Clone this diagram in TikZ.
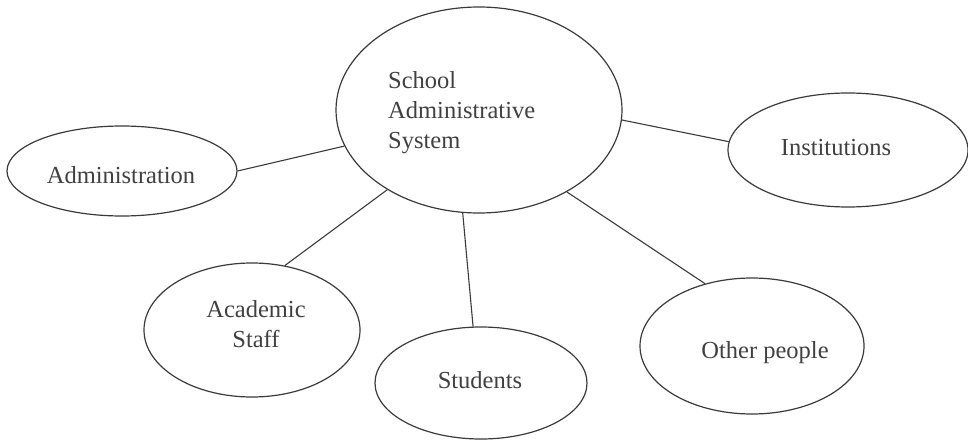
\documentclass[tikz,border=0pt]{standalone}
\usepackage{fontspec}
\setmainfont{Liberation Serif}
\usetikzlibrary{shapes.geometric}
\definecolor{ink}{HTML}{3A3A3A}
\definecolor{txt}{HTML}{404040}
\begin{document}
\begin{tikzpicture}[x=1pt,y=-1pt,
  oval/.style={draw=ink,line width=1.2pt,ellipse,inner sep=0pt},
  caption/.style={text=txt,inner sep=0pt,font=\fontsize{24.5}{29.5}\selectfont},
  link/.style={draw=ink,line width=1.1pt}]
\useasboundingbox (0,0) rectangle (968,441);

% ellipses
\node[oval,minimum width=286pt,minimum height=206pt] (sys) at (479,110) {};
\node[oval,minimum width=230pt,minimum height=90pt]  (adm) at (122,171) {};
\node[oval,minimum width=240pt,minimum height=114pt] (ins) at (848,150) {};
\node[oval,minimum width=216pt,minimum height=134pt] (aca) at (252,330) {};
\node[oval,minimum width=212pt,minimum height=112pt] (stu) at (481,383) {};
\node[oval,minimum width=224pt,minimum height=136pt] (oth) at (752,346) {};

% texts (base anchor of a multi-line node sits on its last line)
\node[caption,anchor=base west,align=left] (systxt) at (388,148)
  {School\\Administrative\\System};
\node[caption,anchor=base] (admtxt) at (121,183) {Administration};
\node[caption,anchor=base] (instxt) at (836,155) {Institutions};
\node[caption,anchor=base,align=center] (acatxt) at (256,347) {Academic\\Staff};
\node[caption,anchor=base] (stutxt) at (480,388) {Students};
\node[caption,anchor=base] (othtxt) at (765,358) {Other people};

% connectors
\draw[link] (adm.0)   -- (sys.195);
\draw[link] (sys.356) -- (ins.176);
\draw[link] (sys.221) -- (aca.63);
\draw[link] (sys.261) -- (stu.98);
\draw[link] (sys.317) -- (oth.127);
\end{tikzpicture}
\end{document}
